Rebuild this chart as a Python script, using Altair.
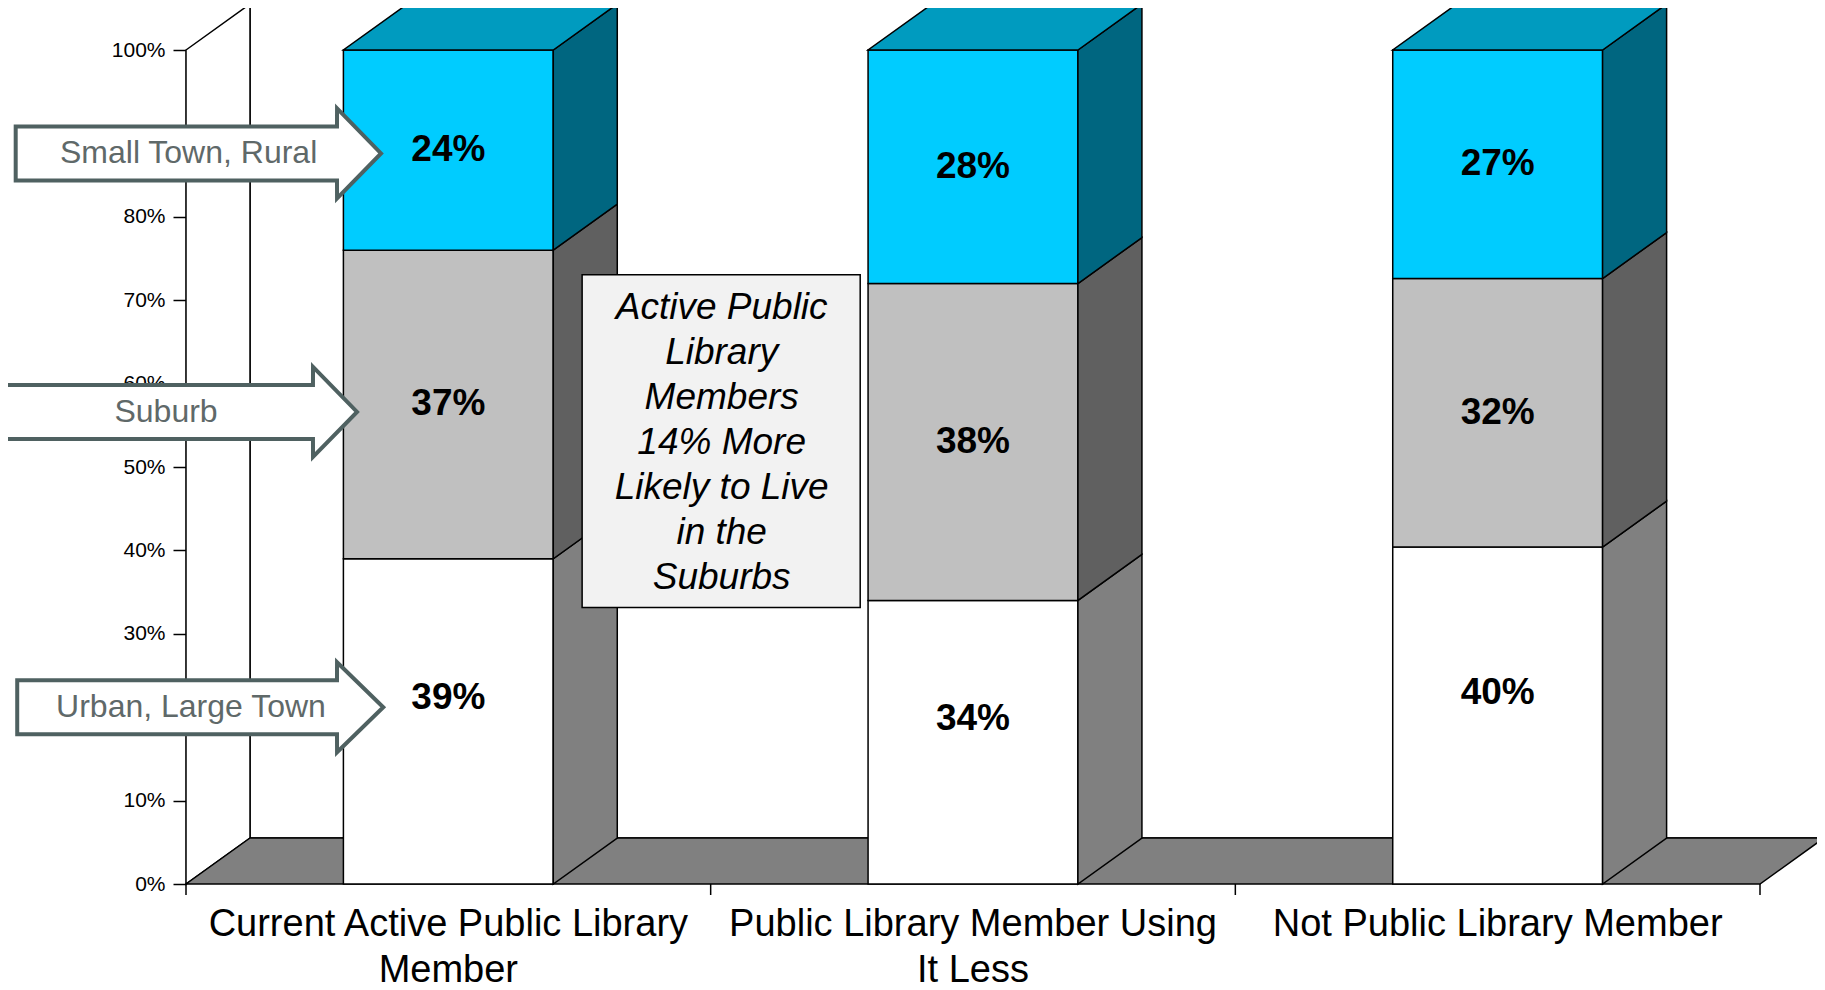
import altair as alt
import pandas as pd

# ---------------- data ----------------
categories = ["Current Active Public Library Member",
              "Public Library Member Using It Less",
              "Not Public Library Member"]
category_labels = ["Current Active Public Library\nMember",
                   "Public Library Member Using\nIt Less",
                   "Not Public Library Member"]
segments = ["Urban, Large Town", "Suburb", "Small Town, Rural"]
urban = [39.0, 34.0, 40.4]
suburb = [37.0, 38.0, 32.2]
small_town = [24.0, 28.0, 27.4]
y_ticks = [0, 10, 20, 30, 40, 50, 60, 70, 80, 90, 100]
y_ticks_hidden_by_arrows = [20, 90]
category_ticks = [0, 1, 2, 3]
callout_lines = ["Active Public", "Library", "Members", "14% More",
                 "Likely to Live", "in the", "Suburbs"]

# ---------------- styles ----------------
front_colors = ["#FFFFFF", "#C0C0C0", "#00CCFF"]
side_colors = ["#808080", "#606060", "#006680"]
top_color = "#009BBF"
floor_color = "#808080"
wall_color = "#FFFFFF"
box_color = "#F2F2F2"
arrow_stroke = "#4F6161"
arrow_text = "#5F6969"
FONT = "Liberation Sans"

W, H = 1574, 834
N = len(categories)
DX = 64 / (W / N)      # depth of the 3D effect, in category units
DY = 46 / (H / 100)    # depth of the 3D effect, in percent units
BAR_L, BAR_R = 0.3, 0.7
EPS = 1e-4

xs = alt.Scale(domain=[0, N], nice=False, zero=False)
ys = alt.Scale(domain=[0, 100], nice=False, zero=False)
hidden = "[" + ",".join(str(v) for v in y_ticks_hidden_by_arrows) + "]"
YAX = alt.Axis(values=y_ticks,
               labelExpr=f"indexof({hidden}, datum.value) >= 0 ? '' : datum.value + '%'",
               tickSize=13, tickWidth=1.5, tickColor="black", domainColor="black",
               domainWidth=1.5, labelFontSize=21, labelColor="black",
               labelPadding=8, grid=False, labelFont=FONT, title=None)

# ---------------- derived tables ----------------
seg_rows, side_rows, top_rows, label_rows = [], [], [], []
for i, cat in enumerate(categories):
    base = 0.0
    for s, vals in enumerate([urban, suburb, small_town]):
        v = vals[i]
        top = base + v
        seg_rows.append(dict(cat=cat, seg=segments[s], xl=i + BAR_L, xr=i + BAR_R,
                             base=base, top=top, fill=front_colors[s]))
        pid = f"side{i}{s}"
        side_rows.append(dict(poly=pid, x=i + BAR_R, y=top, y2=base, fill=side_colors[s]))
        side_rows.append(dict(poly=pid, x=i + BAR_R + DX, y=top + DY, y2=base + DY,
                              fill=side_colors[s]))
        ly = (top + DY) / 2 if s == 0 else (base + top) / 2
        label_rows.append(dict(x=i + 0.5, y=ly, text=f"{v:.0f}%"))
        base = top
    pid = f"top{i}"
    top_rows.append(dict(poly=pid, y=base, x=i + BAR_L, x2=i + BAR_R, fill=top_color))
    top_rows.append(dict(poly=pid, y=base + DY, x=i + BAR_L + DX, x2=i + BAR_R + DX,
                         fill=top_color))

seg_df = pd.DataFrame(seg_rows)
side_df = pd.DataFrame(side_rows)
top_df = pd.DataFrame(top_rows)
label_df = pd.DataFrame(label_rows)
cat_df = pd.DataFrame(dict(x=[i + 0.5 for i in range(N)], text=category_labels))

back_df = pd.DataFrame([dict(x=DX, x2=N + DX, y=DY, y2=100 + DY)])
left_df = pd.DataFrame([dict(poly="lw", x=0, y=100, y2=0),
                        dict(poly="lw", x=DX, y=100 + DY, y2=DY)])
floor_df = pd.DataFrame([dict(poly="fl", y=0, x=0, x2=N),
                         dict(poly="fl", y=DY, x=DX, x2=N + DX)])
tick_df = pd.DataFrame(dict(b=category_ticks, zero=[0] * len(category_ticks)))

# callout box
box_df = pd.DataFrame([dict(x=0.755, x2=1.285, y=73.05, y2=33.15)])
box_text_df = pd.DataFrame([dict(x=1.021, y=71.2, text=callout_lines)])

# block arrows (label, centre %, left, head base, tip, text x)
arrows = [("Small Town, Rural", 87.6, -0.3246, 0.2878, 0.3717, 0.005),
          ("Suburb", 56.6, -0.45, 0.242, 0.326, -0.038),
          ("Urban, Large Town", 21.2, -0.3217, 0.2878, 0.376, 0.0095)]
BH, HH = 27 / (H / 100), 45 / (H / 100)
arrow_rows, arrow_text_rows = [], []
for k, (lab, c, left, hb, tip, tx) in enumerate(arrows):
    arrow_rows += [dict(poly=k, x=left, y=c + BH, y2=c - BH),
                   dict(poly=k, x=hb, y=c + BH, y2=c - BH),
                   dict(poly=k, x=hb + EPS, y=c + HH, y2=c - HH),
                   dict(poly=k, x=tip, y=c, y2=c)]
    arrow_text_rows.append(dict(x=tx, y=c, text=lab))
arrow_df = pd.DataFrame(arrow_rows)
arrow_text_df = pd.DataFrame(arrow_text_rows)


def X(f="x"):
    return alt.X(f"{f}:Q", scale=xs, axis=None, title=None, stack=None)


def Y(f="y"):
    return alt.Y(f"{f}:Q", scale=ys, axis=YAX, title=None, stack=None)


back = alt.Chart(back_df).mark_rect(fill=wall_color, stroke="black", strokeWidth=1.5).encode(
    x=X(), x2="x2:Q", y=Y(), y2="y2:Q")

left_wall = alt.Chart(left_df).mark_area(orient="vertical", fill=wall_color, stroke="black",
                                         strokeWidth=1.5).encode(
    x=X(), y=Y(), y2="y2:Q", detail="poly:N")

floor = alt.Chart(floor_df).mark_area(orient="horizontal", fill=floor_color, stroke="black",
                                      strokeWidth=1.5).encode(
    y=Y(), x=X(), x2="x2:Q", detail="poly:N")

fronts = alt.Chart(seg_df).mark_rect(stroke="black", strokeWidth=1.5).encode(
    x=X("xl"), x2="xr:Q", y=Y("base"), y2="top:Q",
    color=alt.Color("fill:N", scale=None))

sides = alt.Chart(side_df).mark_area(orient="vertical", stroke="black", strokeWidth=1.5).encode(
    x=X(), y=Y(), y2="y2:Q", detail="poly:N",
    color=alt.Color("fill:N", scale=None))

tops = alt.Chart(top_df).mark_area(orient="horizontal", stroke="black", strokeWidth=1.5).encode(
    y=Y(), x=X(), x2="x2:Q", detail="poly:N", color=alt.Color("fill:N", scale=None))

ticks = alt.Chart(tick_df).mark_rule(color="black", strokeWidth=1.5, y2Offset=11).encode(
    x=X("b"), y=Y("zero"), y2="zero:Q")

cat_labels = alt.Chart(cat_df).mark_text(fontSize=38, color="black", baseline="top",
                                         align="center", lineHeight=46, lineBreak="\n",
                                         font=FONT).encode(
    x=X(), y=alt.value(H + 22), text="text:N")

labels = alt.Chart(label_df).mark_text(fontSize=37, fontWeight="bold", color="black",
                                       baseline="middle", align="center", font=FONT).encode(
    x=X(), y=Y(), text="text:N")

box = alt.Chart(box_df).mark_rect(fill=box_color, stroke="black", strokeWidth=1.5).encode(
    x=X(), x2="x2:Q", y=Y(), y2="y2:Q")

box_text = alt.Chart(box_text_df).mark_text(fontSize=37, fontStyle="italic", color="black",
                                            baseline="top", align="center", lineHeight=45,
                                            font=FONT).encode(
    x=X(), y=Y(), text="text")

arrow_shapes = alt.Chart(arrow_df).mark_area(orient="vertical", fill="white", stroke=arrow_stroke,
                                             strokeWidth=4, strokeJoin="miter").encode(
    x=X(), y=Y(), y2="y2:Q", detail="poly:N")

arrow_labels = alt.Chart(arrow_text_df).mark_text(fontSize=32, color=arrow_text, baseline="middle",
                                                  align="center", font=FONT).encode(
    x=X(), y=Y(), text="text:N")

chart = alt.layer(back, left_wall, floor, fronts, sides, tops, ticks, cat_labels, labels,
                  box, box_text, arrow_shapes, arrow_labels).properties(
    width=W, height=H,
    autosize=alt.AutoSizeParams(type="none"),
    padding={"left": 178, "top": 42, "right": 57, "bottom": 106},
    background="white",
).configure_view(stroke=None).configure_axis(labelFont=FONT).configure_text(font=FONT)

chart.save("out.html", embed_options={"renderer": "svg", "actions": False})
